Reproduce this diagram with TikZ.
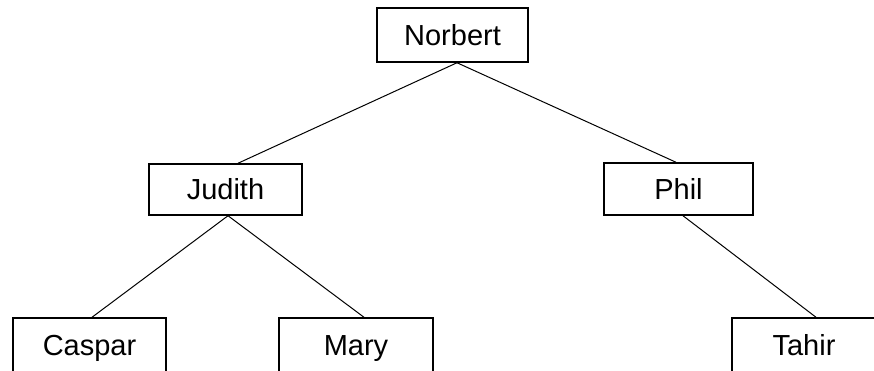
\documentclass[tikz,border=0pt]{standalone}
\usepackage{fontspec}
\setmainfont{Liberation Sans}
\begin{document}
\begin{tikzpicture}[x=1pt,y=-1pt,
  person/.style={draw, line width=1.5pt, inner sep=0pt, text height=23pt, text depth=3pt, font=\fontsize{29}{34}\selectfont},
  link/.style={line width=1pt}]
\useasboundingbox (0,0) rectangle (874,370);
\node[person, minimum width=151pt, minimum height=54pt] (norbert) at (452.5,35) {Norbert};
\node[person, minimum width=153pt, minimum height=51pt] (judith) at (225.5,189.5) {Judith};
\node[person, minimum width=149pt, minimum height=52pt] (phil) at (678.5,189) {Phil};
\node[person, minimum width=153pt, minimum height=54pt] (caspar) at (89.5,345) {Caspar};
\node[person, minimum width=154pt, minimum height=54pt] (mary) at (356,345) {Mary};
\node[person, minimum width=144pt, minimum height=54pt] (tahir) at (804,345) {Tahir};
\draw[link] ([xshift=4.5pt]norbert.south) -- ([xshift=12.5pt]judith.north);
\draw[link] ([xshift=4.5pt]norbert.south) -- ([xshift=-2.5pt]phil.north);
\draw[link] ([xshift=2.5pt]judith.south) -- ([xshift=2.5pt]caspar.north);
\draw[link] ([xshift=2.5pt]judith.south) -- ([xshift=8pt]mary.north);
\draw[link] ([xshift=4.5pt]phil.south) -- ([xshift=12pt]tahir.north);
\end{tikzpicture}
\end{document}
